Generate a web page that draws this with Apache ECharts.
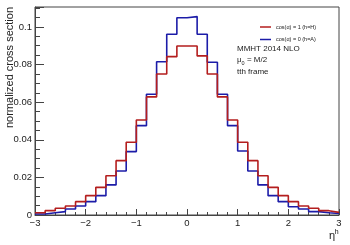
<!DOCTYPE html>
<html>
<head>
<meta charset="utf-8">
<script src="https://cdn.jsdelivr.net/npm/echarts@6/dist/echarts.min.js"></script>
<style>html,body{margin:0;padding:0;background:#fff}#c{width:350px;height:245px}</style>
</head>
<body>
<div id="c"></div>
<script>
const binEdges = [-3,-2.8,-2.6,-2.4,-2.2,-2,-1.8,-1.6,-1.4,-1.2,-1,-0.8,-0.6,-0.4,-0.2,0,0.2,0.4,0.6,0.8,1,1.2,1.4,1.6,1.8,2,2.2,2.4,2.6,2.8,3];
const redName = 'cos(α) = 1 (h=H)';
const blueName = 'cos(α) = 0 (h=A)';
const redVals = [0.0012,0.0023,0.0036,0.0048,0.0071,0.0103,0.0147,0.0209,0.0289,0.0387,0.0505,0.0628,0.0750,0.0842,0.0899,0.0899,0.0846,0.0750,0.0628,0.0505,0.0387,0.0289,0.0209,0.0147,0.0103,0.0071,0.0048,0.0036,0.0023,0.0014];
const blueVals = [0.0005,0.0012,0.0018,0.0032,0.0048,0.0071,0.0103,0.0160,0.0234,0.0337,0.0475,0.0642,0.0815,0.0961,0.1049,0.1055,0.0961,0.0812,0.0642,0.0475,0.0340,0.0234,0.0160,0.0103,0.0071,0.0044,0.0032,0.0018,0.0012,0.0008];
const yTitle = 'normalized cross section';
const infoLines = ['MMHT 2014 NLO', '{m|μ}{s|0}{m| = M/2}', 'tth frame'];

function stepData(vals){
  const d = vals.map((v,i)=>[binEdges[i], v]);
  d.push([binEdges[binEdges.length-1], vals[vals.length-1]]);
  return d;
}
const font = 'Liberation Sans, Arial, sans-serif';
const axisCol = '#444';
const chart = echarts.init(document.getElementById('c'), null, {renderer:'canvas'});
chart.setOption({
  animation:false,
  grid:{left:35, top:7, right:11, bottom:30, show:true, borderColor:axisCol, borderWidth:1},
  xAxis:{type:'value', min:-3, max:3, interval:1,
    axisLine:{onZero:false, lineStyle:{color:axisCol}},
    axisTick:{inside:true, length:6, lineStyle:{color:axisCol}},
    minorTick:{show:true, splitNumber:5, length:3, lineStyle:{color:axisCol}},
    splitLine:{show:false},
    axisLabel:{fontSize:9.5, fontFamily:font, color:'#222', margin:3,
      formatter:v=> (v<0?'\u2212'+Math.abs(v):String(v))}
  },
  yAxis:{type:'value', min:0, max:0.1106, interval:0.02,
    axisLine:{onZero:false, lineStyle:{color:axisCol}},
    axisTick:{inside:true, length:9, lineStyle:{color:axisCol}},
    minorTick:{show:true, splitNumber:4, length:5, lineStyle:{color:axisCol}},
    splitLine:{show:false},
    axisLabel:{fontSize:9.5, fontFamily:font, color:'#222', margin:3, showMaxLabel:false,
      formatter:v=> String(parseFloat(v.toFixed(4)))}
  },
  legend:{orient:'vertical', left:255, top:19, itemWidth:11, itemHeight:1.5, itemGap:6.5, icon:'rect',
    textStyle:{fontSize:5.5, fontFamily:font, color:'#222'},
    data:[redName, blueName]},
  series:[
    {name:blueName, type:'line', step:'end', showSymbol:false, symbol:'none',
     lineStyle:{color:'#1c1ca8', width:1.6}, itemStyle:{color:'#1c1ca8'}, data:stepData(blueVals)},
    {name:redName, type:'line', step:'end', showSymbol:false, symbol:'none',
     lineStyle:{color:'#b41e1e', width:1.6}, itemStyle:{color:'#b41e1e'}, data:stepData(redVals)}
  ],
  graphic:[
    {type:'text', x:10, y:7, rotation:Math.PI/2,
     style:{text:yTitle, font:'11px '+font, fill:'#222', align:'right', verticalAlign:'middle'}},
    {type:'text', x:329, y:236,
     style:{text:'η', font:'11px '+font, fill:'#222', align:'left', verticalAlign:'middle'}},
    {type:'text', x:334.5, y:232,
     style:{text:'h', font:'7.5px '+font, fill:'#222', align:'left', verticalAlign:'middle'}},
    {type:'text', x:237, y:49,
     style:{text:infoLines[0], font:'8px '+font, fill:'#222', align:'left', verticalAlign:'middle'}},
    {type:'text', x:237, y:60,
     style:{text:infoLines[1], fill:'#222', align:'left', verticalAlign:'middle',
       rich:{m:{fontSize:8, fontFamily:font, fill:'#222'}, s:{fontSize:5.5, fontFamily:font, fill:'#222', padding:[6,0,0,0]}}}},
    {type:'text', x:237, y:72,
     style:{text:infoLines[2], font:'8px '+font, fill:'#222', align:'left', verticalAlign:'middle'}}
  ]
});
</script>
</body>
</html>
